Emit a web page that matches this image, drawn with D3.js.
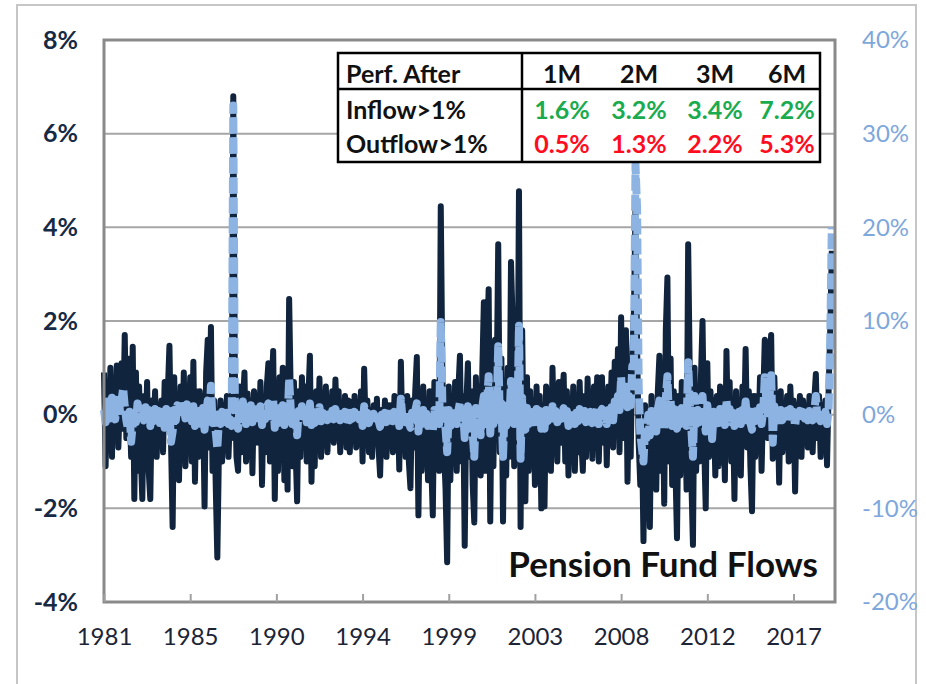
<!DOCTYPE html>
<html>
<head>
<meta charset="utf-8">
<script src="https://cdnjs.cloudflare.com/ajax/libs/d3/7.8.5/d3.min.js"></script>
<style>
  body { margin: 0; background: #fff; }
  svg { display: block; font-family: Lato, "Open Sans", sans-serif; }
</style>
</head>
<body>
<svg id="chart" width="926" height="684"></svg>
<script>
// x axis: month index from Jan 1981, one label every 54 months
const tickYears = [1981, 1985, 1990, 1994, 1999, 2003, 2008, 2012, 2017];
const tickMonths = [0, 54, 108, 162, 216, 270, 324, 378, 432];
const leftTicks = [-4, -2, 0, 2, 4, 6, 8];
const rightTicks = [-20, -10, 0, 10, 20, 30, 40];

// pension fund flows, % (left axis), one row per year
const flows = [
  0.9, -1.1, 0.5, -0.6, 1.0, -0.9, 0.7, -0.4, 1.05, -0.7, 0.4, 1.1,      // 1981
  -0.3, 1.7, -0.5, 1.2, 0.3, -0.9, 1.45, -1.8, 0.9, -1.2, 0.6, -0.8,     // 1982
  -1.8, 0.4, -0.6, 0.7, -1.2, -1.8, 0.3, -0.5, 0.5, -0.9, 0.2, -0.4,     // 1983
  0.3, -0.8, 0.7, -0.3, 0.5, 1.47, -0.6, -2.4, 0.8, -1.0, 0.4, -1.4,     // 1984
  0.6, -0.7, 0.9, -1.1, 0.4, -0.5, 0.8, -1.0, 1.13, -1.43, 0.5, -0.9,    // 1985
  0.5, -0.8, 0.4, -1.96, 0.9, 1.6, -0.7, 1.87, -1.2, 0.3, -1.5, -3.05,   // 1986
  -0.8, 0.3, -1.0, 0.2, -0.6, 0.4, -0.9, 0.1, -0.5, 6.8, 0.9, -0.9,      // 1987
  -1.2, 0.6, -0.8, 0.2, 0.9, -1.0, 0.45, -0.7, 0.3, -1.25, 0.5, -0.6,    // 1988
  0.4, -0.6, 0.7, -1.5, 0.3, -0.8, 0.6, 1.1, -1.0, 0.5, 1.36, -1.8,      // 1989
  0.3, -1.2, 0.8, -0.5, 1.0, -1.4, 0.6, -1.6, 2.47, 0.4, -1.1, 0.7,      // 1990
  -0.7, -1.85, 0.5, -0.9, 0.8, -0.4, 0.6, -1.0, 0.3, 1.26, -1.43, 0.4,   // 1991
  -1.1, 0.5, -0.6, 0.77, -0.9, 0.3, -0.5, 0.6, -0.8, 0.2, -0.4, 0.5,     // 1992
  -0.6, 0.75, -0.3, 0.5, -0.8, 0.2, -0.5, 0.4, -0.7, 0.3, -0.8, 0.27,    // 1993
  -0.5, 0.4, -0.7, 0.2, -0.6, 0.5, -1.0, 0.98, -0.4, 0.3, -0.8, 0.1,     // 1994
  -0.9, 0.2, -0.5, 0.34, -0.7, -1.3, 0.1, -0.6, 0.3, -0.9, 0.2, -0.5,    // 1995
  0.2, -0.8, 0.4, -0.6, 0.3, -1.17, 1.13, -0.5, 0.2, -0.9, 0.4, -1.0,    // 1996
  -1.57, 0.3, -0.7, 0.5, 1.23, -2.15, 0.4, -1.2, 0.6, -0.9, 0.2, -1.4,   // 1997
  0.5, -1.0, -2.15, 0.7, -0.8, 0.4, -1.2, 4.45, 0.9, -0.7, -1.6, -3.15,  // 1998
  0.6, -1.4, 0.3, -0.9, 0.7, -1.2, 0.5, 1.26, -1.0, 0.4, -2.8, 0.2,      // 1999
  1.1, -0.9, 0.5, -1.5, -2.3, 0.8, -1.0, 0.6, -1.3, 0.9, 2.4, -1.2,      // 2000
  1.4, 2.68, -2.28, 0.9, -1.1, 1.6, 0.5, 3.64, -0.8, 1.2, -2.28, 0.7,    // 2001
  -1.3, 1.0, -0.9, 3.26, 2.0, -1.1, 1.5, -0.6, 4.77, -2.4, 1.8, -1.0,    // 2002
  -1.85, 0.8, -1.2, 0.5, -0.9, 0.3, -1.5, 0.6, -0.7, 0.4, -2.0, 0.2,     // 2003
  -1.96, 0.6, -0.8, 0.3, -1.2, 1.0, -0.5, 0.4, -1.0, 0.7, -0.6, 0.3,     // 2004
  0.85, -1.0, 0.5, -1.3, 0.3, -0.7, 0.6, -1.2, 0.2, -0.8, 0.7, -0.5,     // 2005
  -1.2, 0.4, -0.9, 0.77, -0.5, 0.3, -0.94, 0.6, -0.4, 0.8, -1.0, 0.3,    // 2006
  0.8, -0.6, 0.4, -1.08, 0.6, -0.4, 0.9, -0.7, 1.13, -0.3, 1.4, -0.8,    // 2007
  2.08, -0.5, 1.0, 1.8, -1.43, 0.6, -0.9, 1.3, 2.2, 4.4, 1.5, -0.6,      // 2008
  -1.5, -0.3, -2.7, 0.2, -1.8, -0.5, -2.4, 0.4, -1.2, -0.2, -1.6, 0.5,   // 2009
  1.26, -1.2, 0.6, -1.9, 1.8, 2.93, -1.0, 1.2, -1.5, 0.5, -1.1, -2.64,   // 2010
  0.4, -1.3, 0.7, -0.9, 0.3, -1.6, 3.64, 0.9, -1.4, -2.78, 1.0, -1.2,    // 2011
  0.5, -1.0, 0.8, 2.0, -0.6, -2.0, 1.1, -0.9, 0.5, -0.4, 0.3, -1.3,      // 2012
  0.4, -1.1, 0.6, -0.7, 0.3, -1.4, 1.36, -0.5, 0.7, -1.0, 0.2, -1.8,     // 2013
  0.5, -0.8, 0.3, -1.3, 0.6, -0.4, 1.4, -0.7, 0.5, -1.1, -2.06, 0.4,     // 2014
  -0.9, 0.4, -0.6, 0.8, -1.2, 0.3, 1.6, 0.9, -0.5, 1.2, 1.7, -0.94,      // 2015
  0.8, -0.5, 0.3, -1.45, 0.5, -0.8, 0.2, -0.6, 0.4, -1.0, 0.6, -0.3,     // 2016
  0.3, -1.64, 0.2, -0.6, 0.4, -0.9, 0.3, -0.5, 0.1, -0.7, 0.4, -0.4,     // 2017
  -0.8, 0.3, 0.87, -0.5, 0.4, -0.9, 0.2, -0.6, 0.3, -1.08, 0.5, 1.8,     // 2018
  3.5                                                                    // 2019
];

// light blue series, % (right axis)
const market = [
  0.5, -0.8, 1.4, 0.2, -0.4, 1.8, 0.6, -0.5, 1.0, 2.2, 0.4, 1.6,         // 1981
  2.8, 0.9, -0.6, -1.5, 0.3, -2.9, -1.0, 0.5, -0.8, 1.2, 0.4, -0.3,      // 1982
  0.0, -0.6, 0.8, -0.4, 0.5, -1.2, 0.2, -0.7, 0.6, -0.2, 0.4, -0.9,      // 1983
  0.3, -0.5, -1.4, 0.6, -0.8, 0.4, -2.9, -1.8, 0.5, -0.6, 1.0, 0.2,      // 1984
  1.4, 0.3, 0.8, -0.4, 1.1, 0.0, 0.6, -0.7, 0.9, -1.2, 0.5, -0.3,        // 1985
  0.4, -1.0, 0.7, -1.6, 0.2, 1.5, -0.6, 3.1, -0.9, 0.5, -1.8, -3.6,      // 1986
  -0.5, -1.0, 0.3, -0.8, -0.4, 0.2, -1.0, -0.5, -1.2, 33.0, 0.8, -1.0,   // 1987
  -1.5, 0.9, -0.5, 1.4, 0.3, -1.0, 0.6, -0.3, 1.0, -0.8, 0.4, -0.2,      // 1988
  0.6, -0.4, 0.9, -1.1, 0.3, -0.5, 0.8, 1.2, -0.6, 0.4, 1.5, -1.4,       // 1989
  0.2, -0.9, 0.7, -0.3, 1.0, -1.1, 0.5, -0.8, 3.8, 0.6, -1.0, 0.4,       // 1990
  -0.6, -2.2, 0.4, -0.7, 0.9, -0.2, 0.5, -0.8, 0.1, 1.2, -1.1, 0.3,      // 1991
  -0.9, 0.4, -0.5, 0.8, -0.7, 0.2, -0.4, 0.6, -0.6, 0.1, -0.3, 0.4,      // 1992
  -0.5, 0.6, -0.2, 0.3, -0.6, 0.1, -0.4, 0.3, -0.5, 0.2, -0.6, 0.2,      // 1993
  -0.4, 0.3, -0.8, 0.0, -0.5, 0.4, -1.2, 0.9, -0.3, 0.2, -0.9, 0.0,      // 1994
  -0.8, 0.1, -0.4, 0.2, -0.6, -1.3, 0.0, -0.5, 0.2, -0.8, 0.1, -0.4,     // 1995
  0.1, -0.7, 0.3, -0.5, 0.2, -1.2, 1.7, -0.4, 0.1, -0.8, 0.3, -0.9,      // 1996
  -1.4, 0.2, -0.6, 0.4, 1.2, -1.8, 0.3, -1.0, 0.5, -0.8, 0.1, -1.2,      // 1997
  0.4, -0.9, -1.8, 0.5, -0.7, 0.3, -1.0, 9.9, 1.2, -0.6, -1.5, -4.0,     // 1998
  0.5, -1.2, 0.2, -0.8, 0.6, -1.0, 0.4, 1.3, -0.9, 0.3, -2.5, 0.1,       // 1999
  0.9, -0.8, 0.4, -2.0, -4.5, 0.7, -1.5, 0.5, -2.2, 0.8, 2.0, -1.0,      // 2000
  1.5, 4.1, -2.0, 1.0, -1.0, 1.8, 0.5, 7.3, -0.6, 1.2, -4.5, 0.6,        // 2001
  -1.2, 1.0, -0.8, 3.6, 2.2, -1.0, 1.4, -0.5, 9.5, -4.7, 1.8, -0.9,      // 2002
  -1.6, 0.7, -1.0, 0.5, -0.8, 0.3, -1.3, 0.6, -0.6, 0.4, -1.5, 0.2,      // 2003
  -1.5, 0.5, -0.7, 0.3, -1.0, 0.9, -0.4, 0.4, -0.8, 0.6, -0.5, 0.3,      // 2004
  0.7, -0.9, 0.4, -1.2, 0.3, -0.6, 0.5, -1.0, 0.2, -0.7, 0.6, -0.4,      // 2005
  -1.0, 0.4, -0.8, 0.6, -0.5, 0.3, -0.9, 0.5, -0.3, 0.7, -1.0, 0.3,      // 2006
  0.6, -0.5, 0.4, -1.0, 0.5, -0.3, 0.8, -0.6, 1.4, 0.2, 2.0, 0.5,        // 2007
  4.0, 1.2, 2.5, 3.0, 0.8, 2.0, 1.0, 5.2, 5.5, 26.7, 22.0, 3.0,          // 2008
  -2.0, -3.5, -5.0, -1.5, -2.5, 0.0, -2.2, 0.4, -1.0, -0.5, -1.8, 0.6,   // 2009
  1.5, -1.0, 0.8, -1.6, 1.8, 4.1, -0.8, 1.5, -1.2, 0.6, -0.9, -1.5,      // 2010
  0.5, -1.0, 0.7, -0.6, 0.4, -1.2, 5.6, 1.0, -1.5, -4.5, 2.0, -1.0,      // 2011
  0.5, -0.8, 0.9, 2.0, -0.5, -1.8, 1.0, -0.7, 0.4, -2.6, 0.3, -1.0,      // 2012
  0.4, -0.9, 0.6, -0.5, 0.3, -1.1, 1.5, -0.4, 0.6, -0.8, 0.2, -1.2,      // 2013
  0.4, -0.6, 0.3, -1.0, 0.5, -0.3, 1.4, -0.6, 0.4, -0.9, -1.6, 0.3,      // 2014
  -0.7, 0.4, -0.5, 0.8, -1.0, 0.3, 4.0, 1.5, -0.4, 2.0, 4.2, -3.0,       // 2015
  0.9, -0.4, 0.3, -1.2, 0.5, -0.6, 0.2, -0.5, 0.4, -0.8, 0.6, -0.2,      // 2016
  0.3, -1.2, 0.2, -0.5, 0.4, -0.7, 0.3, -0.4, 0.1, -0.6, 0.4, -0.3,      // 2017
  -0.6, 0.3, 2.0, -0.4, 0.4, -0.7, 0.2, -0.5, 0.3, -1.0, 0.5, 8.0,       // 2018
  20.0                                                                   // 2019
];

const tableHead = ["Perf. After", "1M", "2M", "3M", "6M"];
const rowNames = ["Inflow>1%", "Outflow>1%"];
const inflowPerf = ["1.6%", "3.2%", "3.4%", "7.2%"];
const outflowPerf = ["0.5%", "1.3%", "2.2%", "5.3%"];

const svg = d3.select("#chart");
const plot = {left: 104, right: 835, top: 40, bottom: 602};

// outer frame
svg.append("rect")
  .attr("x", 17).attr("y", 5)
  .attr("width", 899).attr("height", 700)
  .attr("fill", "none")
  .attr("stroke", "#c6c6c6")
  .attr("stroke-width", 2);

const x = d3.scaleLinear().domain([0, 458]).range([plot.left, plot.right]);
const yL = d3.scaleLinear().domain([-4, 8]).range([plot.bottom, plot.top]);
const yR = d3.scaleLinear().domain([-20, 40]).range([plot.bottom, plot.top]);

// gridlines
svg.append("g")
  .selectAll("line")
  .data(leftTicks)
  .join("line")
  .attr("x1", plot.left).attr("x2", plot.right)
  .attr("y1", d => yL(d)).attr("y2", d => yL(d))
  .attr("stroke", "#a6a6a6")
  .attr("stroke-width", 2);

// lines
const flowLine = d3.line()
  .x((d, i) => x(i))
  .y(d => yL(d));

const marketLine = d3.line()
  .x((d, i) => x(i))
  .y(d => yR(d));

svg.append("path")
  .datum(flows)
  .attr("d", flowLine)
  .attr("fill", "none")
  .attr("stroke", "#10243e")
  .attr("stroke-width", 6)
  .attr("stroke-linejoin", "round");

svg.append("path")
  .datum(market)
  .attr("d", marketLine)
  .attr("fill", "none")
  .attr("stroke", "#8db3e2")
  .attr("stroke-width", 8)
  .attr("stroke-linejoin", "round")
  .attr("stroke-dasharray", "16,4");

// plot border
svg.append("rect")
  .attr("x", plot.left).attr("y", plot.top)
  .attr("width", plot.right - plot.left)
  .attr("height", plot.bottom - plot.top)
  .attr("fill", "none")
  .attr("stroke", "#8a8a8a")
  .attr("stroke-width", 3);

// x axis
const xAxis = svg.append("g")
  .attr("transform", `translate(0,${plot.bottom})`)
  .call(d3.axisBottom(x)
    .tickValues(tickMonths)
    .tickFormat((d, i) => tickYears[i])
    .tickSize(-8)
    .tickPadding(26));
xAxis.select(".domain").remove();
xAxis.selectAll(".tick line").attr("stroke", "#a0a0a0").attr("stroke-width", 2);
xAxis.selectAll("text")
  .attr("fill", "#1c2436")
  .style("font-family", "Lato, sans-serif")
  .style("font-size", "24px");

// left axis
const leftAxis = svg.append("g")
  .attr("transform", `translate(${plot.left},0)`)
  .call(d3.axisLeft(yL)
    .tickValues(leftTicks)
    .tickFormat(d => d + "%")
    .tickSize(0)
    .tickPadding(26));
leftAxis.select(".domain").remove();
leftAxis.selectAll("text")
  .attr("fill", "#172a45")
  .style("font-family", "Lato, sans-serif")
  .style("font-weight", "bold")
  .style("font-size", "25px");

// right axis
const rightAxis = svg.append("g")
  .attr("transform", `translate(${plot.right},0)`)
  .call(d3.axisRight(yR)
    .tickValues(rightTicks)
    .tickFormat(d => d + "%")
    .tickSize(0)
    .tickPadding(27));
rightAxis.select(".domain").remove();
rightAxis.selectAll("text")
  .attr("fill", "#7ea7dc")
  .style("font-family", "Lato, sans-serif")
  .style("font-size", "24px");

// performance table
const table = svg.append("g");
table.append("rect")
  .attr("x", 338).attr("y", 53)
  .attr("width", 482).attr("height", 109)
  .attr("fill", "#fff")
  .attr("stroke", "#000")
  .attr("stroke-width", 2.5);
table.append("line")
  .attr("x1", 338).attr("x2", 820)
  .attr("y1", 89).attr("y2", 89)
  .attr("stroke", "#000").attr("stroke-width", 2.5);
table.append("line")
  .attr("x1", 522).attr("x2", 522)
  .attr("y1", 53).attr("y2", 162)
  .attr("stroke", "#000").attr("stroke-width", 2.5);

const colX = [562, 639, 715, 787];
const rowY = [83, 119, 153];

table.append("text")
  .attr("x", 346).attr("y", rowY[0])
  .attr("font-size", 25).attr("font-weight", "bold")
  .attr("fill", "#111")
  .text(tableHead[0]);
table.selectAll("text.head")
  .data(tableHead.slice(1))
  .join("text")
  .attr("class", "head")
  .attr("x", (d, i) => colX[i]).attr("y", rowY[0])
  .attr("text-anchor", "middle")
  .attr("font-size", 25).attr("font-weight", "bold")
  .attr("fill", "#111")
  .text(d => d);

rowNames.forEach((name, r) => {
  table.append("text")
    .attr("x", 346).attr("y", rowY[r + 1])
    .attr("font-size", 25).attr("font-weight", "bold")
    .attr("fill", "#111")
    .text(name);
});

[inflowPerf, outflowPerf].forEach((vals, r) => {
  table.selectAll(`text.v${r}`)
    .data(vals)
    .join("text")
    .attr("class", `v${r}`)
    .attr("x", (d, i) => colX[i]).attr("y", rowY[r + 1])
    .attr("text-anchor", "middle")
    .attr("font-size", 25).attr("font-weight", "bold")
    .attr("fill", r === 0 ? "#1aab4f" : "#ff0d1f")
    .text(d => d);
});

// chart label
svg.append("text")
  .attr("x", 818).attr("y", 577)
  .attr("text-anchor", "end")
  .attr("font-size", 35).attr("font-weight", "bold")
  .attr("fill", "#111")
  .text("Pension Fund Flows");
</script>
</body>
</html>
